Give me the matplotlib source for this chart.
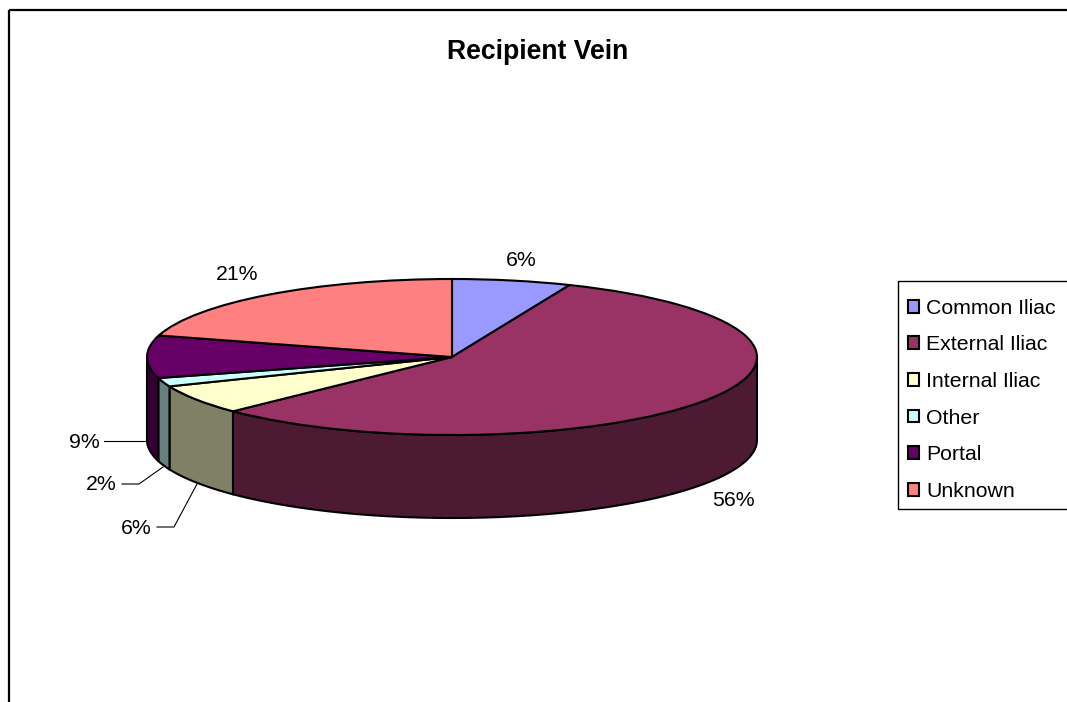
import matplotlib
matplotlib.use('Agg')
import matplotlib.pyplot as plt
from matplotlib.patches import Rectangle
import numpy as np

plt.rcParams['font.family'] = ['Liberation Sans', 'DejaVu Sans']

categories = ['Common Iliac', 'External Iliac', 'Internal Iliac', 'Other', 'Portal', 'Unknown']
values = [6.3, 56.45, 6.1, 1.8, 8.8, 20.55]
colors = ['#9999FF', '#993366', '#FFFFCC', '#CCFFFF', '#660066', '#FF8080']
title = 'Recipient Vein'

W, H = 1067, 702
cx, cy, rx, ry, depth = 452, 357, 305, 78, 83
edge = 1.5

fig = plt.figure(figsize=(W/100, H/100), dpi=100)
ax = fig.add_axes([0, 0, 1, 1])

# pie is drawn as a circle of radius 1, the axis limits squash it to the ellipse
wedges, _ = ax.pie(values, colors=colors, startangle=90, counterclock=False, radius=1,
                   wedgeprops=dict(edgecolor='black', linewidth=edge, zorder=3))
ax.set_aspect('auto')
ax.set_xlim((0-cx)/rx, (W-cx)/rx)
ax.set_ylim((cy-H)/ry, cy/ry)

# side wall, only the front half of the rim shows
cum = np.cumsum([0] + values) / sum(values) * 360
for i in range(len(values)):
    a0, a1 = max(cum[i], 90), min(cum[i+1], 270)
    if a1 <= a0:
        continue
    t = np.radians(np.linspace(a0, a1, 80))
    xs = np.sin(t)
    ys = np.cos(t)
    px = np.concatenate([xs, xs[::-1]])
    py = np.concatenate([ys, ys[::-1] - depth/ry])
    dark = np.array(matplotlib.colors.to_rgb(colors[i])) * 0.5
    ax.fill(px, py, facecolor=dark, edgecolor='black', linewidth=edge, zorder=2)

# legend has no frame of its own, the box is drawn below so the rows can sit low in it
leg = ax.legend(wedges, categories, loc='upper left', bbox_to_anchor=(896/W, 1-287/H),
                bbox_transform=fig.transFigure, fontsize=15.3, frameon=False,
                borderaxespad=0, borderpad=0.55,
                labelspacing=0.83, handlelength=0.55, handleheight=0.55, handletextpad=0.33)
leg.set_zorder(6)

# overlay in pixel coordinates for frame, title and labels
ov = fig.add_axes([0, 0, 1, 1], facecolor='none')
ov.set_xlim(0, W)
ov.set_ylim(H, 0)
ov.axis('off')
ov.add_patch(Rectangle((9, 10), W, H, facecolor='none', edgecolor='black', linewidth=1.6))
ov.add_patch(Rectangle((898, 281), 200, 228, facecolor='none', edgecolor='black', linewidth=1))
ov.text(538, 52, title, fontsize=19.2, fontweight='bold', ha='center', va='center')

pct = ['%.0f%%' % v for v in values]
label_pos = [(521, 261), (733, 500), (136, 529), (101, 485), (84, 443), (237, 275)]
for s, (x, y) in zip(pct, label_pos):
    ov.text(x, y, s, fontsize=15.3, ha='center', va='center')

ov.plot([104, 147], [441, 441], color='black', lw=0.8)
ov.plot([122, 139, 163], [484, 484, 467], color='black', lw=0.8)
ov.plot([157, 174, 197], [527, 527, 484], color='black', lw=0.8)

fig.savefig('out.png', dpi=100)
